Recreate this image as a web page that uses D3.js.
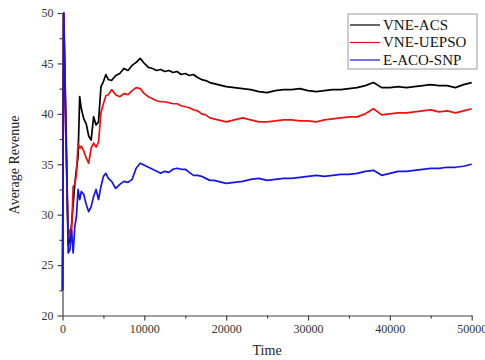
<!DOCTYPE html>
<html>
<head>
<meta charset="utf-8">
<script src="https://cdn.jsdelivr.net/npm/d3@7"></script>
<style>
  html, body { margin: 0; padding: 0; background: #fff; }
  svg { display: block; }
  svg text { font-family: "Liberation Serif", "Times New Roman", serif !important; }
</style>
</head>
<body>
<svg id="chart" width="485" height="360"></svg>
<script>
// time axis (shared by the three series)
var time = [0, 150, 400, 700, 900, 1100, 1300, 1500, 1700, 1900, 2100, 2300, 2600, 2900, 3200, 3500, 3800, 4100, 4400, 4700,
  5000, 5300, 5600, 6000, 6500, 7000, 7500, 8000, 8500, 9000, 9500, 10000,
  10500, 11000, 11500, 12000, 12500, 13000, 13500, 14000, 14500, 15000, 15500, 16000, 16500, 17000, 17500, 18000, 18500, 19000, 19500, 20000,
  21000, 22000, 23000, 24000, 25000, 26000, 27000, 28000, 29000, 30000,
  31000, 32000, 33000, 34000, 35000, 36000, 37000, 38000, 39000, 40000,
  41000, 42000, 43000, 44000, 45000, 46000, 47000, 48000, 49000, 50000];

var vneAcs = [22.5, 50, 40, 27, 27.5, 29, 31, 33, 34.5, 35.7, 41.7, 40.5, 39.5, 39.0, 37.8, 37.4, 39.7, 38.9, 39.2, 42.7,
  43.2, 43.9, 43.4, 43.3, 43.8, 44.0, 44.5, 44.3, 44.8, 45.1, 45.5, 45.0,
  44.6, 44.5, 44.3, 44.4, 44.2, 44.3, 44.1, 44.2, 43.9, 44.0, 43.8, 43.9, 43.6, 43.4, 43.3, 43.1, 43.0, 42.9, 42.8, 42.7,
  42.6, 42.5, 42.4, 42.2, 42.1, 42.3, 42.4, 42.4, 42.5, 42.3,
  42.2, 42.3, 42.4, 42.4, 42.5, 42.6, 42.8, 43.1, 42.6, 42.6,
  42.7, 42.6, 42.7, 42.8, 42.9, 42.8, 42.8, 42.6, 42.9, 43.1];

var vneUepso = [22.5, 50, 38, 27.5, 28.5, 28.0, 32.8, 33.0, 34.0, 37.1, 36.6, 36.8, 36.3, 35.6, 35.1, 36.6, 37.1, 36.7, 37.2, 40.1,
  41.0, 41.8, 41.9, 42.4, 41.9, 41.7, 42.0, 41.9, 42.3, 42.6, 42.5, 42.0,
  41.7, 41.5, 41.3, 41.2, 41.2, 41.1, 41.0, 41.0, 40.8, 40.7, 40.6, 40.4, 40.3, 40.0, 39.9, 39.6, 39.5, 39.4, 39.3, 39.2,
  39.4, 39.6, 39.4, 39.2, 39.2, 39.3, 39.4, 39.4, 39.3, 39.3,
  39.2, 39.4, 39.5, 39.6, 39.7, 39.7, 40.0, 40.5, 39.9, 40.0,
  40.1, 40.1, 40.2, 40.3, 40.4, 40.2, 40.3, 40.1, 40.3, 40.5];

var eAcoSnp = [22.5, 50, 39, 26.2, 26.5, 28.5, 26.2, 28.8, 29.8, 32.5, 31.5, 32.3, 32.0, 31.0, 30.3, 30.8, 31.8, 32.5, 31.5, 32.8,
  33.8, 34.1, 33.6, 33.3, 32.6, 33.0, 33.3, 33.2, 33.5, 34.6, 35.1, 34.9,
  34.7, 34.5, 34.3, 34.1, 34.3, 34.2, 34.5, 34.6, 34.5, 34.5, 34.2, 33.9, 33.9, 33.8, 33.6, 33.4, 33.4, 33.3, 33.2, 33.1,
  33.2, 33.3, 33.5, 33.6, 33.4, 33.5, 33.6, 33.6, 33.7, 33.8,
  33.9, 33.8, 33.9, 34.0, 34.0, 34.1, 34.3, 34.4, 33.9, 34.1,
  34.3, 34.3, 34.4, 34.5, 34.6, 34.6, 34.7, 34.7, 34.8, 35.0];

var seriesNames = ["VNE-ACS", "VNE-UEPSO", "E-ACO-SNP"];
var seriesColors = ["#000000", "#ee1111", "#1414e6"];
var xTicks = [0, 10000, 20000, 30000, 40000, 50000];
var yTicks = [20, 25, 30, 35, 40, 45, 50];

var svg = d3.select("#chart"),
  margin = { top: 13, right: 13.3, bottom: 44.5, left: 62.5 },
  width = +svg.attr("width") - margin.left - margin.right,
  height = +svg.attr("height") - margin.top - margin.bottom;

var g = svg.append("g")
  .attr("transform", "translate(" + margin.left + "," + margin.top + ")");

var x = d3.scaleLinear().domain([0, 50000]).range([0, width]);
var y = d3.scaleLinear().domain([20, 50]).range([height, 0]);

// minor ticks
g.append("g")
  .attr("transform", "translate(0," + height + ")")
  .call(d3.axisBottom(x).tickValues(d3.range(5000, 50000, 10000)).tickSize(3).tickFormat(""))
  .call(function (a) { a.select(".domain").remove(); });
g.append("g")
  .call(d3.axisLeft(y).tickValues(d3.range(22.5, 50, 5)).tickSize(3).tickFormat(""))
  .call(function (a) { a.select(".domain").remove(); });

var xAxis = g.append("g")
  .attr("transform", "translate(0," + height + ")")
  .call(d3.axisBottom(x).tickValues(xTicks).tickSize(5).tickSizeOuter(0).tickPadding(4).tickFormat(d3.format("d")));

var yAxis = g.append("g")
  .call(d3.axisLeft(y).tickValues(yTicks).tickSize(5).tickSizeOuter(0).tickPadding(4));

[xAxis, yAxis].forEach(function (a) {
  a.attr("font-family", "Liberation Serif").attr("font-size", 12);
  a.selectAll("text").attr("fill", "#333");
});
g.selectAll(".domain, .tick line").attr("stroke", "#444").attr("stroke-width", 1.2);

var lineGen = d3.line()
  .x(function (d) { return x(d[0]); })
  .y(function (d) { return y(d[1]); });

[vneAcs, vneUepso, eAcoSnp].forEach(function (vals, i) {
  g.append("path")
    .datum(time.map(function (t, j) { return [t, vals[j]]; }))
    .attr("fill", "none")
    .attr("stroke", seriesColors[i])
    .attr("stroke-width", 1.7)
    .attr("stroke-linejoin", "round")
    .attr("d", lineGen);
});

// axis titles
svg.append("text")
  .attr("x", margin.left + width / 2)
  .attr("y", 355)
  .attr("text-anchor", "middle")
  .attr("font-size", 14)
  .attr("fill", "#222")
  .text("Time");

svg.append("text")
  .attr("transform", "translate(19,165)rotate(-90)")
  .attr("text-anchor", "middle")
  .attr("font-size", 14)
  .attr("fill", "#222")
  .text("Average Revenue");

// legend
var legend = svg.append("g").attr("transform", "translate(348,14)");
legend.append("rect")
  .attr("width", 129).attr("height", 55)
  .attr("fill", "#fff").attr("stroke", "#999").attr("stroke-width", 1);

var item = legend.selectAll("g.item")
  .data(seriesNames)
  .enter()
  .append("g")
  .attr("class", "item")
  .attr("transform", function (d, i) { return "translate(0," + (11 + i * 17.5) + ")"; });

item.append("line")
  .attr("x1", 2).attr("x2", 32)
  .attr("stroke", function (d, i) { return seriesColors[i]; })
  .attr("stroke-width", 1.2);

item.append("text")
  .attr("x", 35)
  .attr("dy", "0.33em")
  .attr("font-size", 15)
  .attr("fill", "#111")
  .text(function (d) { return d; });
</script>
</body>
</html>
